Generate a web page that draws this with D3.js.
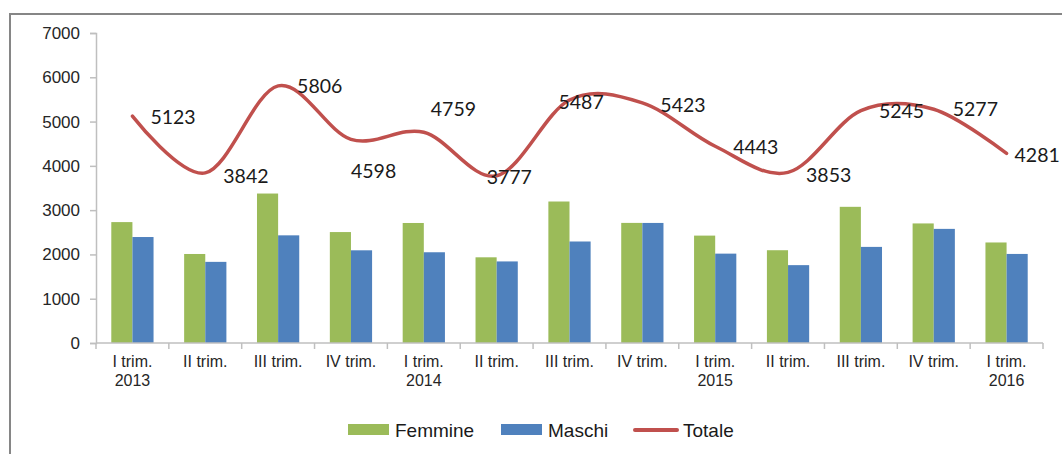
<!DOCTYPE html>
<html>
<head>
<meta charset="utf-8">
<script src="https://cdn.jsdelivr.net/npm/d3@7"></script>
<style>
  body { margin: 0; background: #fff; }
  svg { display: block; }
  .axis path, .axis line { stroke: #bfbfbf; stroke-width: 1.5; }
  .axis text { font-family: "Liberation Sans", Arial, sans-serif; fill: #262626; }
  .val { font-family: Lato, "Open Sans", sans-serif; font-size: 19.5px; fill: #1a1a1a; }
  .legend text { font-family: "Liberation Sans", Arial, sans-serif; font-size: 19px; fill: #1a1a1a; }
</style>
</head>
<body>
<div id="chart"></div>
<script>
// categories (two-line labels)
var quarters = ["I trim.", "II trim.", "III trim.", "IV trim.", "I trim.", "II trim.", "III trim.",
  "IV trim.", "I trim.", "II trim.", "III trim.", "IV trim.", "I trim."];
var years = ["2013", "", "", "", "2014", "", "", "", "2015", "", "", "", "2016"];

var femmine = [2730, 2010, 3375, 2505, 2710, 1935, 3195, 2712, 2425, 2095, 3075, 2700, 2270];
var maschi = [2393, 1832, 2431, 2093, 2049, 1842, 2292, 2711, 2018, 1758, 2170, 2577, 2011];
var totale = [5123, 3842, 5806, 4598, 4759, 3777, 5487, 5423, 4443, 3853, 5245, 5277, 4281];

var yTicks = [0, 1000, 2000, 3000, 4000, 5000, 6000, 7000];

// label nudges (px), Excel moved some of them
var labelDx = [18, 18, 19, 0, 7, -10, -11, 18, 18, 18, 18, 19, 8];
var labelDy = [1, 3, 0, 32, -23, 1, 2, 2, 1, 3, 0, 0, 2];

var COLORS = { green: "#9bbb59", blue: "#4f81bd", red: "#c0504d" };

var width = 1062, height = 454;
var margins = { top: 33, right: 19, bottom: 111, left: 96 };
var chartWidth = width - margins.left - margins.right;
var chartHeight = height - margins.top - margins.bottom;

var svg = d3.select("#chart").append("svg")
  .attr("width", width)
  .attr("height", height);

// outer frame (only top and left edges are visible)
svg.append("rect")
  .attr("x", 10).attr("y", 14)
  .attr("width", 1100).attr("height", 500)
  .attr("fill", "none")
  .attr("stroke", "#868686")
  .attr("stroke-width", 2);

var chartElement = svg.append("g")
  .attr("transform", `translate(${margins.left},${margins.top})`);

var idx = d3.range(quarters.length);

var xScale = d3.scaleBand()
  .domain(idx)
  .range([0, chartWidth]);

var xInner = d3.scaleBand()
  .domain(["f", "m"])
  .range([xScale.bandwidth() * 0.21, xScale.bandwidth() * 0.79]);

var yScale = d3.scaleLinear()
  .domain([0, 7000])
  .range([chartHeight, 0]);

// y axis
var yAxis = d3.axisLeft(yScale)
  .tickValues(yTicks)
  .tickSize(6)
  .tickPadding(10)
  .tickFormat(d => d);

chartElement.append("g")
  .attr("class", "y axis")
  .call(yAxis)
  .call(g => g.selectAll("text").style("font-size", "17px"));

// bars
var groups = chartElement.append("g")
  .attr("class", "bars")
  .selectAll("g")
  .data(idx)
  .enter()
  .append("g")
  .attr("transform", i => `translate(${xScale(i)},0)`);

groups.append("rect")
  .attr("x", xInner("f"))
  .attr("width", xInner.bandwidth())
  .attr("y", i => yScale(femmine[i]))
  .attr("height", i => chartHeight - yScale(femmine[i]))
  .attr("fill", COLORS.green);

groups.append("rect")
  .attr("x", xInner("m"))
  .attr("width", xInner.bandwidth())
  .attr("y", i => yScale(maschi[i]))
  .attr("height", i => chartHeight - yScale(maschi[i]))
  .attr("fill", COLORS.blue);

// x axis with ticks between categories
var xAxisG = chartElement.append("g")
  .attr("class", "x axis")
  .attr("transform", `translate(0,${chartHeight})`);

xAxisG.append("line")
  .attr("x1", 0).attr("x2", chartWidth)
  .attr("y1", 0).attr("y2", 0);

xAxisG.selectAll(".sep")
  .data(idx.concat([quarters.length]))
  .enter()
  .append("line")
  .attr("class", "sep")
  .attr("x1", i => i * xScale.step())
  .attr("x2", i => i * xScale.step())
  .attr("y1", 0).attr("y2", 6);

var xLabels = xAxisG.selectAll(".lbl")
  .data(idx)
  .enter()
  .append("text")
  .attr("class", "lbl")
  .attr("text-anchor", "middle")
  .attr("transform", i => `translate(${xScale(i) + xScale.bandwidth() / 2},0)`)
  .style("font-size", "16px");

xLabels.append("tspan").attr("x", 0).attr("y", 24).text(i => quarters[i]);
xLabels.append("tspan").attr("x", 0).attr("y", 43).text(i => years[i]);

// total line
var line = d3.line()
  .x(i => xScale(i) + xScale.bandwidth() / 2)
  .y(i => yScale(totale[i]))
  .curve(d3.curveCatmullRom.alpha(0));

chartElement.append("path")
  .attr("d", line(idx))
  .attr("fill", "none")
  .attr("stroke", COLORS.red)
  .attr("stroke-width", 3.5)
  .attr("stroke-linecap", "round");

// value labels
chartElement.append("g")
  .selectAll("text")
  .data(idx)
  .enter()
  .append("text")
  .attr("class", "val")
  .attr("x", i => xScale(i) + xScale.bandwidth() / 2 + labelDx[i])
  .attr("y", i => yScale(totale[i]) + labelDy[i])
  .attr("dy", "0.35em")
  .text(i => totale[i]);

// legend
var legend = svg.append("g").attr("class", "legend");
var items = [
  { name: "Femmine", color: COLORS.green, type: "bar", x: 348 },
  { name: "Maschi", color: COLORS.blue, type: "bar", x: 501 },
  { name: "Totale", color: COLORS.red, type: "line", x: 633 }
];

items.forEach(function(it) {
  if (it.type === "bar") {
    legend.append("rect")
      .attr("x", it.x).attr("y", 424)
      .attr("width", 41).attr("height", 11)
      .attr("fill", it.color);
  } else {
    legend.append("line")
      .attr("x1", it.x + 2).attr("x2", it.x + 44)
      .attr("y1", 430).attr("y2", 430)
      .attr("stroke", it.color)
      .attr("stroke-width", 4)
      .attr("stroke-linecap", "round");
  }
  legend.append("text")
    .attr("x", it.x + (it.type === "bar" ? 47 : 50))
    .attr("y", 430)
    .attr("dy", "0.35em")
    .text(it.name);
});
</script>
</body>
</html>
